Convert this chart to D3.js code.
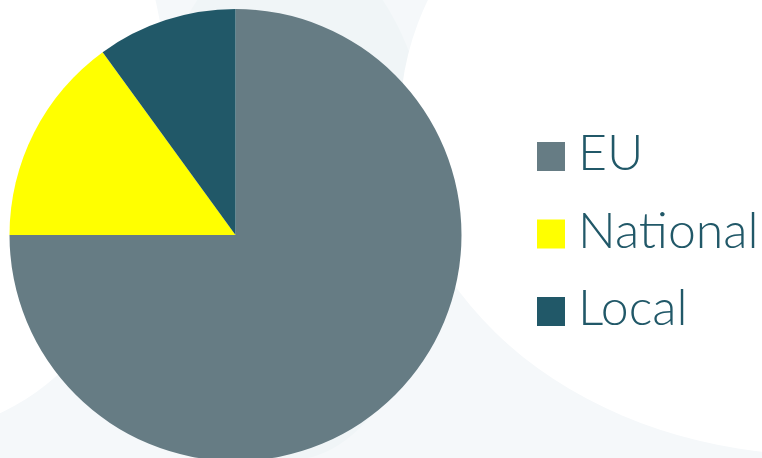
<!DOCTYPE html>
<html>
<head>
<meta charset="utf-8">
<script src="https://cdn.jsdelivr.net/npm/d3@7"></script>
<style>
  html, body { margin: 0; padding: 0; background: #ffffff; }
  svg { display: block; }
</style>
</head>
<body>
<svg id="chart" width="762" height="458"></svg>
<script>
const categories = ["EU", "National", "Local"];
const values = [75, 15, 10];
const colors = ["#667c84", "#ffff00", "#215868"];

const W = 762, H = 458;
const svg = d3.select("#chart");

// decorative background
const bg = svg.append("g");
bg.append("rect").attr("width", W).attr("height", H).attr("fill", "#f5f8fa");
bg.append("ellipse").attr("cx", 290).attr("cy", 200).attr("rx", 145).attr("ry", 260).attr("fill", "#f0f5f7");
bg.append("ellipse").attr("cx", 820).attr("cy", 120).attr("rx", 420).attr("ry", 335).attr("fill", "#ffffff");
bg.append("ellipse").attr("cx", -80).attr("cy", 100).attr("rx", 247).attr("ry", 331).attr("fill", "#ffffff");

// pie
const cx = 235.5, cy = 235, r = 226;
const pie = d3.pie().sort(null).value(d => d.v);
const arc = d3.arc().innerRadius(0).outerRadius(r);
const color = d3.scaleOrdinal().domain(categories).range(colors);
const data = categories.map((c, i) => ({ c, v: values[i] }));

svg.append("g")
  .attr("transform", `translate(${cx},${cy})`)
  .selectAll("path")
  .data(pie(data))
  .join("path")
  .attr("d", arc)
  .attr("fill", d => color(d.data.c));

// legend
const legend = svg.append("g").attr("transform", "translate(537,142)");
const items = legend.selectAll("g")
  .data(categories)
  .join("g")
  .attr("transform", (d, i) => `translate(0,${i * 77.5})`);
items.append("rect")
  .attr("width", 28).attr("height", 29)
  .attr("fill", d => color(d));
items.append("text")
  .attr("x", 41).attr("y", 28)
  .attr("fill", "#215868")
  .attr("font-family", "Lato, 'Open Sans', sans-serif")
  .attr("font-weight", 300)
  .attr("font-size", 50)
  .text(d => d);
</script>
</body>
</html>
